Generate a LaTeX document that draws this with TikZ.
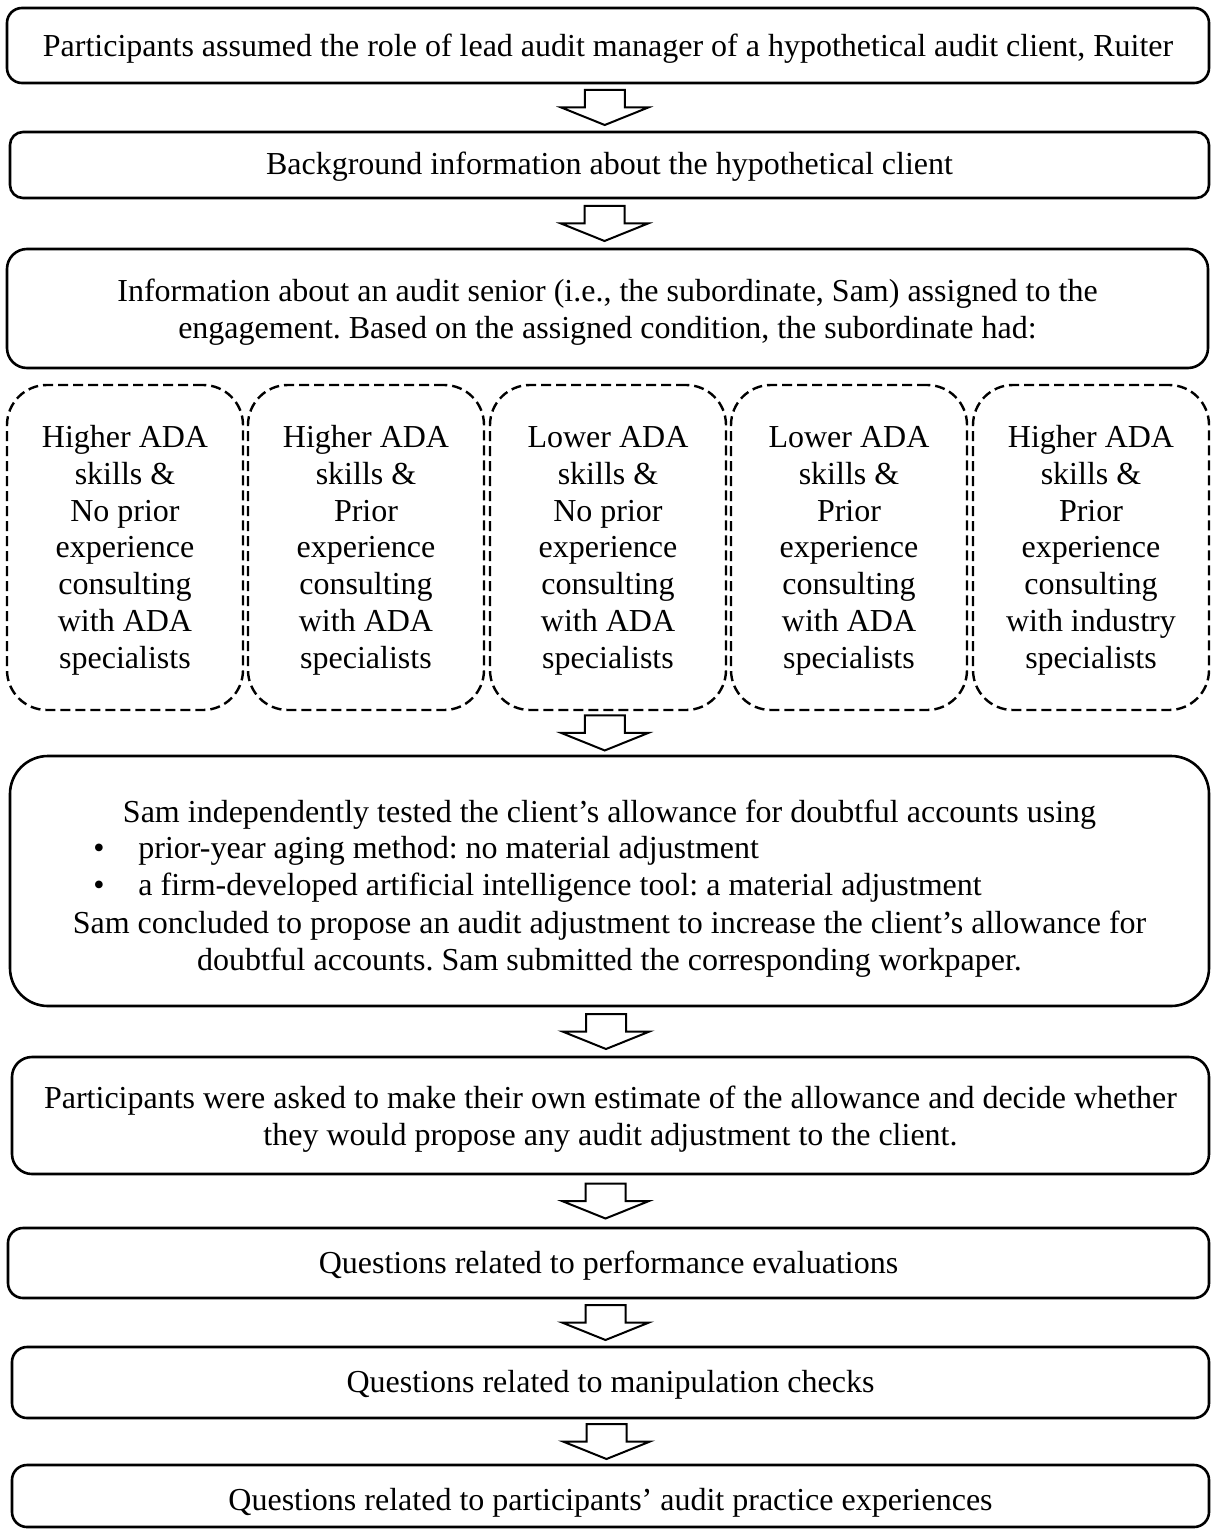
\documentclass[tikz,border=0pt]{standalone}
\usepackage{fontspec}
\setmainfont{Liberation Serif}
\usetikzlibrary{calc,fit}
\newcommand\flowarrow[2]{%
  \draw[arr] ([xshift=-2pt]$(#1.south)!0.5!(#2.north)$) ++(-20,-17.5) -- ++(40,0) -- ++(0,17.5) -- ++(23.5,0) -- ++(-43.5,17.5) -- ++(-43.5,-17.5) -- ++(23.5,0) -- cycle;}
\begin{document}
\frenchspacing
\begin{tikzpicture}[x=0.5pt,y=-0.5pt,
  box/.style={draw, line width=1.3pt, inner sep=0pt, rounded corners=#1},
  box/.default=7.5pt,
  dbox/.style={draw, line width=1.2pt, inner sep=0pt, rounded corners=20pt, dash pattern=on 5pt off 2.5pt},
  txt/.style={font=\fontsize{16}{18.35}\selectfont\frenchspacing, inner sep=0pt, anchor=base, align=center},
  arr/.style={draw, line width=1pt, fill=white, line join=miter}]
\useasboundingbox (0,0) rectangle (1211,1530);

\node[box=7.5pt, fit={(7,8) (1209,83)}] (b1) {};
\node[txt] (t1) at (608,57) {Participants assumed the role of lead audit manager of a hypothetical audit client, Ruiter};

\node[box=6.5pt, fit={(10,132) (1209,198)}] (b2) {};
\node[txt] (t2) at (609.5,175) {Background information about the hypothetical client};

\node[box=10pt, fit={(7,249) (1208,368)}] (b3) {};
\node[txt] (t3) at (607.5,338) {Information about an audit senior (i.e., the subordinate, Sam) assigned to the\\engagement. Based on the assigned condition, the subordinate had:};

\node[dbox, fit={(7,385) (243,710)}] (d1) {};
\node[dbox, fit={(248,385) (484,710)}] (d2) {};
\node[dbox, fit={(490,385) (726,710)}] (d3) {};
\node[dbox, fit={(731,385) (967,710)}] (d4) {};
\node[dbox, fit={(973,385) (1209,710)}] (d5) {};
\node[txt] (e1) at (125,668) {Higher ADA\\skills \&\\No prior\\experience\\consulting\\with ADA\\specialists};
\node[txt] (e2) at (366,668) {Higher ADA\\skills \&\\Prior\\experience\\consulting\\with ADA\\specialists};
\node[txt] (e3) at (608,668) {Lower ADA\\skills \&\\No prior\\experience\\consulting\\with ADA\\specialists};
\node[txt] (e4) at (849,668) {Lower ADA\\skills \&\\Prior\\experience\\consulting\\with ADA\\specialists};
\node[txt] (e5) at (1091,668) {Higher ADA\\skills \&\\Prior\\experience\\consulting\\with industry\\specialists};

\node[box=19pt, fit={(10,756) (1209,1006)}] (b4) {};
\node[txt] (t4a) at (609.5,822) {Sam independently tested the client’s allowance for doubtful accounts using};
\node[txt, anchor=base west] (t4b) at (93,858) {\makebox[22.5pt][l]{\textbullet}prior-year aging method: no material adjustment};
\node[txt, anchor=base west] (t4c) at (93,895) {\makebox[22.5pt][l]{\textbullet}a firm-developed artificial intelligence tool: a material adjustment};
\node[txt] (t4d) at (609.5,970) {Sam concluded to propose an audit adjustment to increase the client’s allowance for\\doubtful accounts. Sam submitted the corresponding workpaper.};

\node[box=10pt, fit={(12,1057) (1209,1174)}] (b5) {};
\node[txt] (t5) at (610.5,1145) {Participants were asked to make their own estimate of the allowance and decide whether\\they would propose any audit adjustment to the client.};

\node[box=7.5pt, fit={(8,1228) (1209,1298)}] (b6) {};
\node[txt] (t6) at (608.5,1273) {Questions related to performance evaluations};

\node[box=7.5pt, fit={(12,1347) (1209,1418)}] (b7) {};
\node[txt] (t7) at (610.5,1392) {Questions related to manipulation checks};

\node[box=7.5pt, fit={(12,1465) (1209,1527)}] (b8) {};
\node[txt] (t8) at (610.5,1510) {Questions related to participants’ audit practice experiences};

\flowarrow{b1}{b2}
\flowarrow{b2}{b3}
\flowarrow{d3}{b4}
\flowarrow{b4}{b5}
\flowarrow{b5}{b6}
\flowarrow{b6}{b7}
\flowarrow{b7}{b8}
\end{tikzpicture}
\end{document}
